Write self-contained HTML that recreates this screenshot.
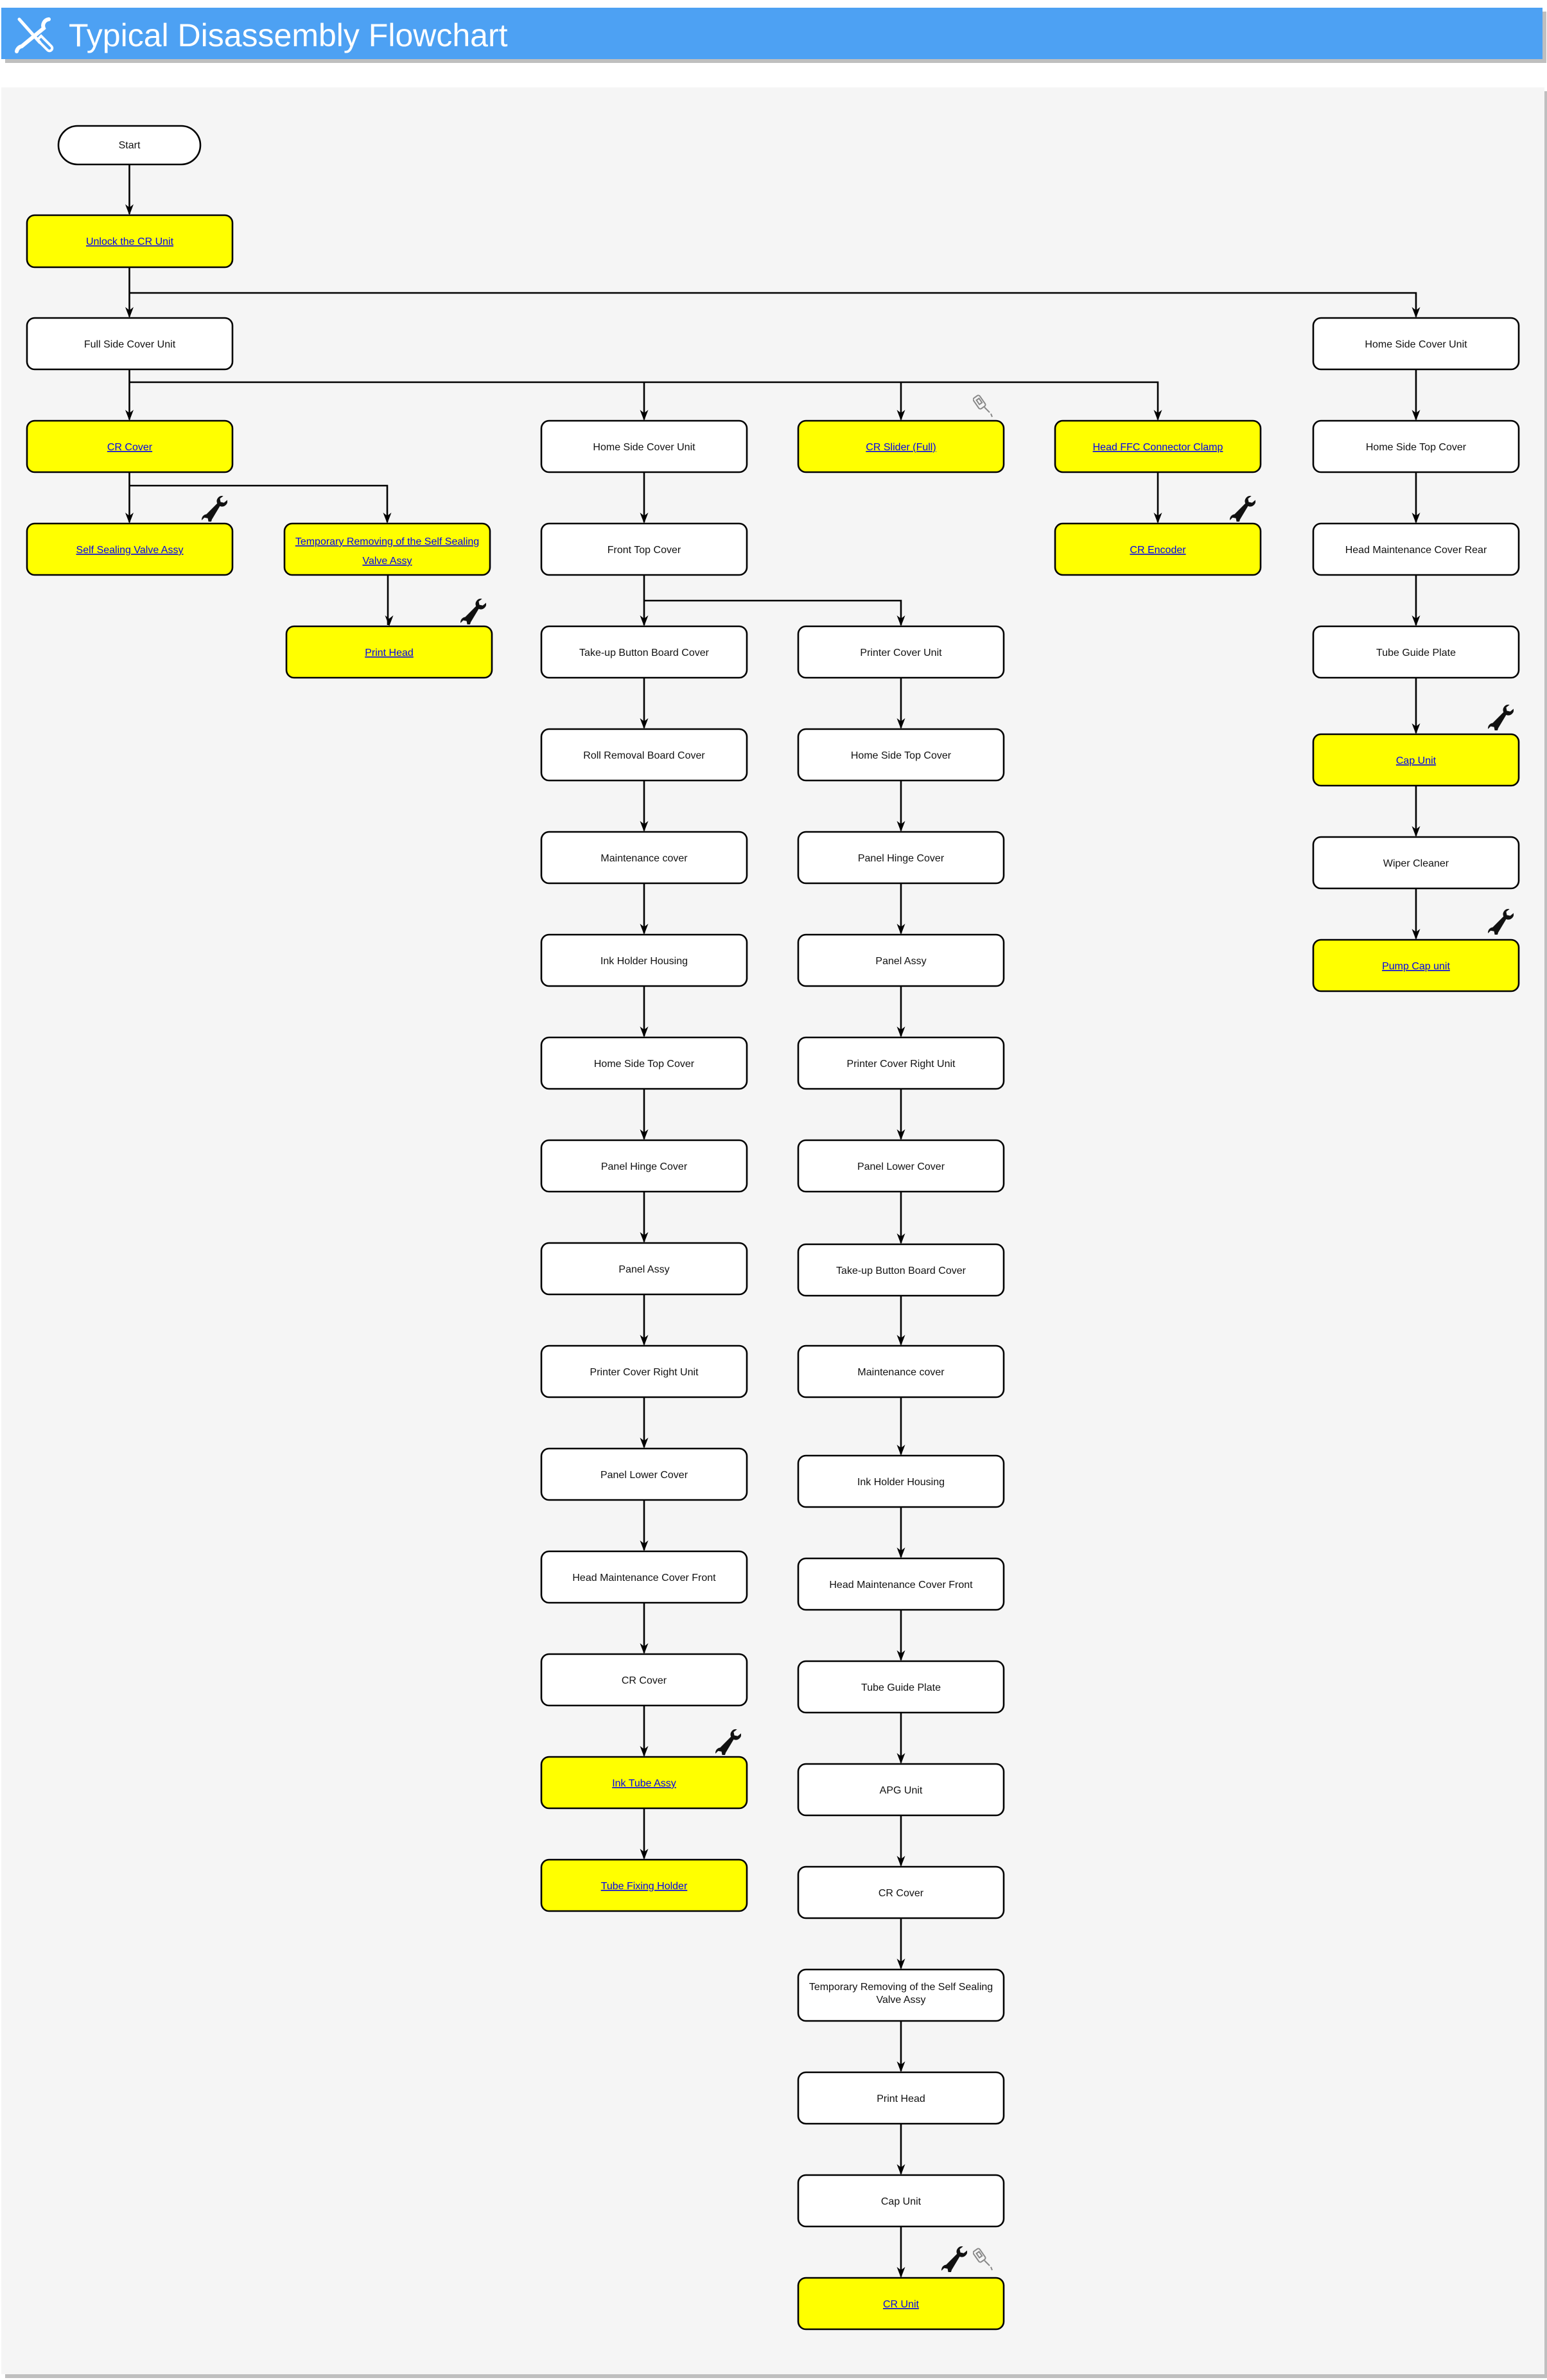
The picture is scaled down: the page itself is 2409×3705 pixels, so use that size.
<!DOCTYPE html>
<html><head><meta charset="utf-8"><style>
html,body{margin:0;padding:0;background:#fff;}
svg{display:block;}
text{font-family:"Liberation Sans",Arial,sans-serif;}
.n{fill:#fff;stroke:#000;stroke-width:2.6;}
.y{fill:#ffff00;stroke:#000;stroke-width:2.6;}
.t{font-size:16px;fill:#111;text-anchor:middle;}
.l{font-size:16px;fill:#0000ee;text-anchor:middle;text-decoration:underline;}
.c{fill:none;stroke:#000;stroke-width:2.6;}
</style></head><body>
<svg width="2409" height="3705" viewBox="0 0 2409 3705" xmlns="http://www.w3.org/2000/svg">
<defs>
<symbol id="w" viewBox="0 0 40 40">
<path d="M34 2 a8 8 0 0 0 -9 11 L9 29 a8 8 0 0 0 -7 9 l4 -4 5 1 1 5 -4 4 a8 8 0 0 0 9 -7 L29 17 a8 8 0 0 0 11 -9 l-5 4 -5 -1 -1 -5 z" fill="#111"/>
</symbol>
<symbol id="g" viewBox="0 0 34 40">
<g fill="none" stroke="#888" stroke-width="2"><rect x="4" y="6" width="12" height="20" rx="3" transform="rotate(-35 10 16)"/><rect x="8" y="11" width="5" height="8" transform="rotate(-35 10 16)"/><path d="M18 24 l8 8 M28 34 l2 5"/></g>
</symbol>
<path id="ah" d="M-6.5 -17 L0 0 L6.5 -17 L0 -12Z" fill="#000"/>
</defs>
<!-- header -->
<rect x="8" y="18" width="2400" height="80" fill="#bfbfbf"/>
<rect x="2" y="12" width="2400" height="80" fill="#4da1f3"/>
<g stroke="#fff" stroke-width="5" fill="none" stroke-linecap="round">
<path d="M30 30 L62 66"/><path d="M58 62 l16 16 a4 4 0 0 0 6 -6 l-16 -16 z" stroke-width="4"/>
<path d="M76 30 a10 10 0 0 0 -8 14 L34 72 a10 10 0 0 0 -8 8" stroke-width="6"/>
</g>
<text x="107" y="72" style="font-size:50px;fill:#fff;">Typical Disassembly Flowchart</text>
<!-- panel -->
<rect x="8" y="142" width="2401" height="3560" fill="#bfbfbf"/>
<rect x="2" y="136" width="2403" height="3560" fill="#f5f5f5"/>

<g>
<path class="c" d="M201.5 256 V333"/>
<path class="c" d="M201.5 416 V493"/>
<path class="c" d="M201.5 456 H2205 V493"/>
<path class="c" d="M201.5 575 V653"/>
<path class="c" d="M201.5 595 H1803 V653"/>
<path class="c" d="M1003 595 V653"/>
<path class="c" d="M1403 595 V653"/>
<path class="c" d="M201.5 735 V813"/>
<path class="c" d="M201.5 756 H603 V813"/>
<path class="c" d="M604 895 V973"/>
<path class="c" d="M1803 735 V813"/>
<path class="c" d="M2205 575 V653"/>
<path class="c" d="M2205 735 V813"/>
<path class="c" d="M2205 895 V973"/>
<path class="c" d="M2205 1055 V1141"/>
<path class="c" d="M2205 1223 V1301"/>
<path class="c" d="M2205 1383 V1461"/>
<path class="c" d="M1003 735 V813"/>
<path class="c" d="M1003 895 V973"/>
<path class="c" d="M1003 935 H1403 V973"/>
</g>

<rect x="91" y="196" width="221" height="60" rx="30" class="n"/>
<text x="201.5" y="231" class="t">Start</text>

<rect x="42" y="335" width="320" height="81" rx="12" class="y"/><text x="202" y="381" class="l">Unlock the CR Unit</text>
<rect x="42" y="495" width="320" height="80" rx="12" class="n"/><text x="202" y="541" class="t">Full Side Cover Unit</text>
<rect x="42" y="655" width="320" height="80" rx="12" class="y"/><text x="202" y="701" class="l">CR Cover</text>
<rect x="42" y="815" width="320" height="80" rx="12" class="y"/><text x="202" y="861" class="l">Self Sealing Valve Assy</text>
<rect x="443" y="815" width="320" height="80" rx="12" class="y"/><text x="603" y="848" class="l">Temporary Removing of the Self Sealing</text><text x="603" y="878" class="l">Valve Assy</text>
<rect x="446" y="975" width="320" height="80" rx="12" class="y"/><text x="606" y="1021" class="l">Print Head</text>
<rect x="1643" y="655" width="320" height="80" rx="12" class="y"/><text x="1803" y="701" class="l">Head FFC Connector Clamp</text>
<rect x="1643" y="815" width="320" height="80" rx="12" class="y"/><text x="1803" y="861" class="l">CR Encoder</text>
<rect x="2045" y="495" width="320" height="80" rx="12" class="n"/><text x="2205" y="541" class="t">Home Side Cover Unit</text>
<rect x="2045" y="655" width="320" height="80" rx="12" class="n"/><text x="2205" y="701" class="t">Home Side Top Cover</text>
<rect x="2045" y="815" width="320" height="80" rx="12" class="n"/><text x="2205" y="861" class="t">Head Maintenance Cover Rear</text>
<rect x="2045" y="975" width="320" height="80" rx="12" class="n"/><text x="2205" y="1021" class="t">Tube Guide Plate</text>
<rect x="2045" y="1143" width="320" height="80" rx="12" class="y"/><text x="2205" y="1189" class="l">Cap Unit</text>
<rect x="2045" y="1303" width="320" height="80" rx="12" class="n"/><text x="2205" y="1349" class="t">Wiper Cleaner</text>
<rect x="2045" y="1463" width="320" height="80" rx="12" class="y"/><text x="2205" y="1509" class="l">Pump Cap unit</text>
<rect x="1243" y="655" width="320" height="80" rx="12" class="y"/><text x="1403" y="701" class="l">CR Slider (Full)</text>

<g>
<path class="c" d="M1003 1055 V1133 M1003 1215 V1293 M1003 1375 V1453 M1003 1535 V1613 M1003 1695 V1773 M1003 1855 V1933 M1003 2015 V2093 M1003 2175 V2253 M1003 2335 V2413 M1003 2495 V2573 M1003 2655 V2733 M1003 2815 V2893"/>
<rect x="843" y="655" width="320" height="80" rx="12" class="n"/><text x="1003" y="701" class="t">Home Side Cover Unit</text>
<rect x="843" y="815" width="320" height="80" rx="12" class="n"/><text x="1003" y="861" class="t">Front Top Cover</text>
<rect x="843" y="975" width="320" height="80" rx="12" class="n"/><text x="1003" y="1021" class="t">Take-up Button Board Cover</text>
<rect x="843" y="1135" width="320" height="80" rx="12" class="n"/><text x="1003" y="1181" class="t">Roll Removal Board Cover</text>
<rect x="843" y="1295" width="320" height="80" rx="12" class="n"/><text x="1003" y="1341" class="t">Maintenance cover</text>
<rect x="843" y="1455" width="320" height="80" rx="12" class="n"/><text x="1003" y="1501" class="t">Ink Holder Housing</text>
<rect x="843" y="1615" width="320" height="80" rx="12" class="n"/><text x="1003" y="1661" class="t">Home Side Top Cover</text>
<rect x="843" y="1775" width="320" height="80" rx="12" class="n"/><text x="1003" y="1821" class="t">Panel Hinge Cover</text>
<rect x="843" y="1935" width="320" height="80" rx="12" class="n"/><text x="1003" y="1981" class="t">Panel Assy</text>
<rect x="843" y="2095" width="320" height="80" rx="12" class="n"/><text x="1003" y="2141" class="t">Printer Cover Right Unit</text>
<rect x="843" y="2255" width="320" height="80" rx="12" class="n"/><text x="1003" y="2301" class="t">Panel Lower Cover</text>
<rect x="843" y="2415" width="320" height="80" rx="12" class="n"/><text x="1003" y="2461" class="t">Head Maintenance Cover Front</text>
<rect x="843" y="2575" width="320" height="80" rx="12" class="n"/><text x="1003" y="2621" class="t">CR Cover</text>
<rect x="843" y="2735" width="320" height="80" rx="12" class="y"/><text x="1003" y="2781" class="l">Ink Tube Assy</text>
<rect x="843" y="2895" width="320" height="80" rx="12" class="y"/><text x="1003" y="2941" class="l">Tube Fixing Holder</text>
</g>

<g>
<path class="c" d="M1403 1055 V1133 M1403 1215 V1293 M1403 1375 V1453 M1403 1535 V1613 M1403 1695 V1773 M1403 1855 V1935 M1403 2017 V2093 M1403 2175 V2264 M1403 2346 V2424 M1403 2506 V2584 M1403 2666 V2744 M1403 2826 V2904 M1403 2986 V3064 M1403 3146 V3224 M1403 3306 V3384 M1403 3466 V3544"/>
<rect x="1243" y="975" width="320" height="80" rx="12" class="n"/><text x="1403" y="1021" class="t">Printer Cover Unit</text>
<rect x="1243" y="1135" width="320" height="80" rx="12" class="n"/><text x="1403" y="1181" class="t">Home Side Top Cover</text>
<rect x="1243" y="1295" width="320" height="80" rx="12" class="n"/><text x="1403" y="1341" class="t">Panel Hinge Cover</text>
<rect x="1243" y="1455" width="320" height="80" rx="12" class="n"/><text x="1403" y="1501" class="t">Panel Assy</text>
<rect x="1243" y="1615" width="320" height="80" rx="12" class="n"/><text x="1403" y="1661" class="t">Printer Cover Right Unit</text>
<rect x="1243" y="1775" width="320" height="80" rx="12" class="n"/><text x="1403" y="1821" class="t">Panel Lower Cover</text>
<rect x="1243" y="1937" width="320" height="80" rx="12" class="n"/><text x="1403" y="1983" class="t">Take-up Button Board Cover</text>
<rect x="1243" y="2095" width="320" height="80" rx="12" class="n"/><text x="1403" y="2141" class="t">Maintenance cover</text>
<rect x="1243" y="2266" width="320" height="80" rx="12" class="n"/><text x="1403" y="2312" class="t">Ink Holder Housing</text>
<rect x="1243" y="2426" width="320" height="80" rx="12" class="n"/><text x="1403" y="2472" class="t">Head Maintenance Cover Front</text>
<rect x="1243" y="2586" width="320" height="80" rx="12" class="n"/><text x="1403" y="2632" class="t">Tube Guide Plate</text>
<rect x="1243" y="2746" width="320" height="80" rx="12" class="n"/><text x="1403" y="2792" class="t">APG Unit</text>
<rect x="1243" y="2906" width="320" height="80" rx="12" class="n"/><text x="1403" y="2952" class="t">CR Cover</text>
<rect x="1243" y="3066" width="320" height="80" rx="12" class="n"/><text x="1403" y="3098" class="t">Temporary Removing of the Self Sealing</text><text x="1403" y="3118" class="t">Valve Assy</text>
<rect x="1243" y="3226" width="320" height="80" rx="12" class="n"/><text x="1403" y="3272" class="t">Print Head</text>
<rect x="1243" y="3386" width="320" height="80" rx="12" class="n"/><text x="1403" y="3432" class="t">Cap Unit</text>
<rect x="1243" y="3546" width="320" height="80" rx="12" class="y"/><text x="1403" y="3592" class="l">CR Unit</text>
</g>

<!-- arrowheads -->
<use href="#ah" x="201.5" y="335"/>
<use href="#ah" x="201.5" y="495"/>
<use href="#ah" x="2205" y="495"/>
<use href="#ah" x="201.5" y="655"/>
<use href="#ah" x="1003" y="655"/>
<use href="#ah" x="1403" y="655"/>
<use href="#ah" x="1803" y="655"/>
<use href="#ah" x="2205" y="655"/>
<use href="#ah" x="201.5" y="815"/>
<use href="#ah" x="603" y="815"/>
<use href="#ah" x="1003" y="815"/>
<use href="#ah" x="1803" y="815"/>
<use href="#ah" x="2205" y="815"/>
<use href="#ah" x="606" y="975"/>
<use href="#ah" x="1003" y="975"/>
<use href="#ah" x="1403" y="975"/>
<use href="#ah" x="2205" y="975"/>
<use href="#ah" x="2205" y="1143"/>
<use href="#ah" x="2205" y="1303"/>
<use href="#ah" x="2205" y="1463"/>
<use href="#ah" x="1003" y="1135"/>
<use href="#ah" x="1003" y="1295"/>
<use href="#ah" x="1003" y="1455"/>
<use href="#ah" x="1003" y="1615"/>
<use href="#ah" x="1003" y="1775"/>
<use href="#ah" x="1003" y="1935"/>
<use href="#ah" x="1003" y="2095"/>
<use href="#ah" x="1003" y="2255"/>
<use href="#ah" x="1003" y="2415"/>
<use href="#ah" x="1003" y="2575"/>
<use href="#ah" x="1003" y="2735"/>
<use href="#ah" x="1003" y="2895"/>
<use href="#ah" x="1403" y="1135"/>
<use href="#ah" x="1403" y="1295"/>
<use href="#ah" x="1403" y="1455"/>
<use href="#ah" x="1403" y="1615"/>
<use href="#ah" x="1403" y="1775"/>
<use href="#ah" x="1403" y="1937"/>
<use href="#ah" x="1403" y="2095"/>
<use href="#ah" x="1403" y="2266"/>
<use href="#ah" x="1403" y="2426"/>
<use href="#ah" x="1403" y="2586"/>
<use href="#ah" x="1403" y="2746"/>
<use href="#ah" x="1403" y="2906"/>
<use href="#ah" x="1403" y="3066"/>
<use href="#ah" x="1403" y="3226"/>
<use href="#ah" x="1403" y="3386"/>
<use href="#ah" x="1403" y="3546"/>

<!-- icons -->
<use href="#w" x="312" y="770" width="42" height="42"/>
<use href="#w" x="715" y="930" width="42" height="42"/>
<use href="#w" x="1913" y="770" width="42" height="42"/>
<use href="#w" x="2315" y="1095" width="42" height="42"/>
<use href="#w" x="2315" y="1413" width="42" height="42"/>
<use href="#w" x="1112" y="2690" width="42" height="42"/>
<use href="#w" x="1464" y="3495" width="42" height="42"/>
<use href="#g" x="1515" y="3495" width="34" height="40"/>
<use href="#g" x="1515" y="610" width="34" height="40"/>
</svg>
</body></html>
